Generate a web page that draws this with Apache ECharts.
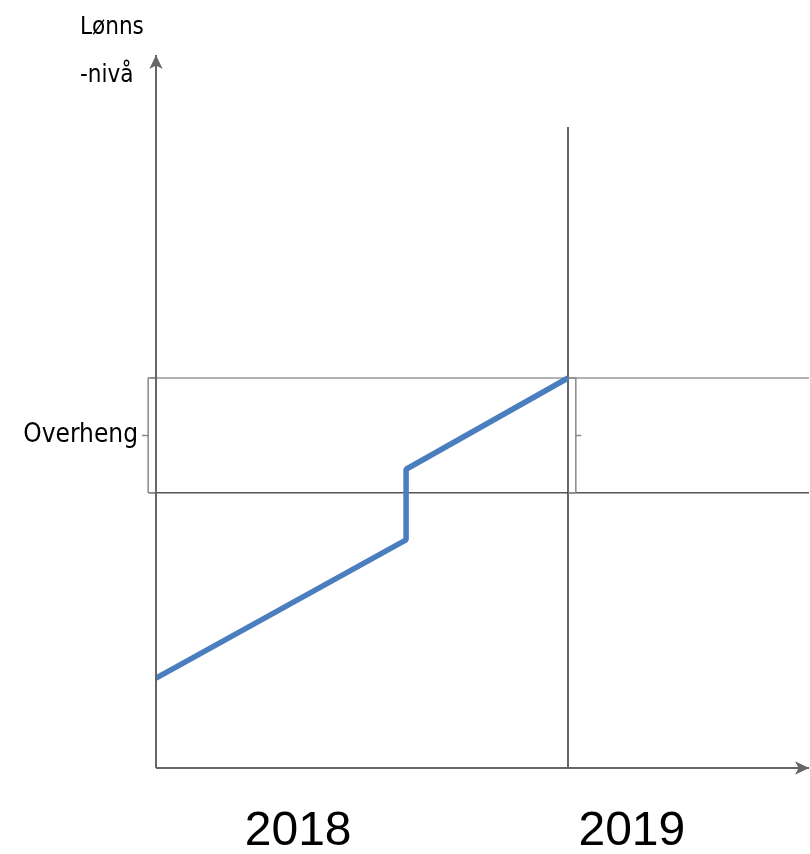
<!DOCTYPE html>
<html><head><meta charset="utf-8">
<script src="https://cdn.jsdelivr.net/npm/echarts@6/dist/echarts.min.js"></script>
<style>html,body{margin:0;padding:0;background:#fff}#c{width:810px;height:854px}</style>
</head><body><div id="c"></div>
<script>
// Time in years (0 = start of 2018, 1 = start of 2019); wage level in arbitrary units
const wageX = [0, 0.607, 0.607, 1];
const wageY = [12.6, 32.0, 41.9, 54.7];
const overhangTop = 54.7;
const overhangBottom = 38.6;
const yearLabels = ['2018', '2019'];
const yearLabelX = [0.345, 1.155];
const yAxisName = 'Lønns\n-nivå';
const overhangName = 'Overheng';

const chart = echarts.init(document.getElementById('c'));
const xMin = -0.3, xMax = 1.585;
const yMax = 100;
const pxPerYear = 412;
const bx = -0.019, bx2 = 0.019;
const mid = (overhangTop + overhangBottom) / 2;

function seg(points, color, width) {
  return {type: 'line', symbol: 'none', silent: true, lineStyle: {color: color, width: width},
    data: points};
}

chart.setOption({
  animation: false,
  grid: {left: 156 + xMin * pxPerYear, width: (xMax - xMin) * pxPerYear, top: 55, bottom: 86},
  xAxis: {type: 'value', min: xMin, max: xMax, show: false},
  yAxis: {type: 'value', min: 0, max: yMax, show: false},
  series: [
    seg([[-0.015, overhangTop], [xMax, overhangTop]], '#999', 1.5),
    seg([[-0.015, overhangBottom], [xMax, overhangBottom]], '#555', 1.5),
    seg([[1, 0], [1, 89.9]], '#333', 1.5),
    // left bracket
    seg([[0, overhangTop], [bx, overhangTop], [bx, overhangBottom], [0, overhangBottom]], '#888', 1.5),
    seg([[bx, mid], [bx - 0.015, mid]], '#888', 1.5),
    // right bracket
    seg([[1, overhangTop], [1 + bx2, overhangTop], [1 + bx2, overhangBottom], [1, overhangBottom]], '#888', 1.5),
    seg([[1 + bx2, mid], [1 + bx2 + 0.013, mid]], '#888', 1.5),
    // axes with arrows
    {type: 'line', data: [], markLine: {silent: true, symbol: ['none', 'arrow'], symbolSize: [10, 14],
      label: {show: false}, lineStyle: {color: '#666', width: 2, type: 'solid'},
      data: [
        [{coord: [0, 0]}, {coord: [xMax, 0]}],
        [{coord: [0, 0]}, {coord: [0, yMax]}]
      ]}},
    // wage path
    seg(wageX.map((x, i) => [x, wageY[i]]), '#4a7ebf', 5.5),
    // year labels
    {type: 'scatter', symbolSize: 0, silent: true, itemStyle: {opacity: 1},
      data: yearLabelX.map((x, i) => ({value: [x, 0], name: yearLabels[i]})),
      label: {show: true, position: 'bottom', distance: 40, formatter: p => p.name,
        fontFamily: 'Liberation Sans, Arial, sans-serif', fontSize: 48, color: '#000'}},
    // overheng label
    {type: 'scatter', symbolSize: 0, silent: true, itemStyle: {opacity: 1},
      data: [{value: [bx - 0.015, mid], name: overhangName}],
      label: {show: true, position: 'left', distance: 4, formatter: p => p.name,
        fontFamily: 'Liberation Sans Narrow, DejaVu Sans Condensed, sans-serif', fontSize: 26, color: '#000'}}
  ],
  graphic: [{type: 'text', left: 80, top: 4,
    style: {text: yAxisName, font: '24px "Liberation Sans Narrow", "DejaVu Sans Condensed", sans-serif', lineHeight: 48, fill: '#000'}}]
});
</script></body></html>
